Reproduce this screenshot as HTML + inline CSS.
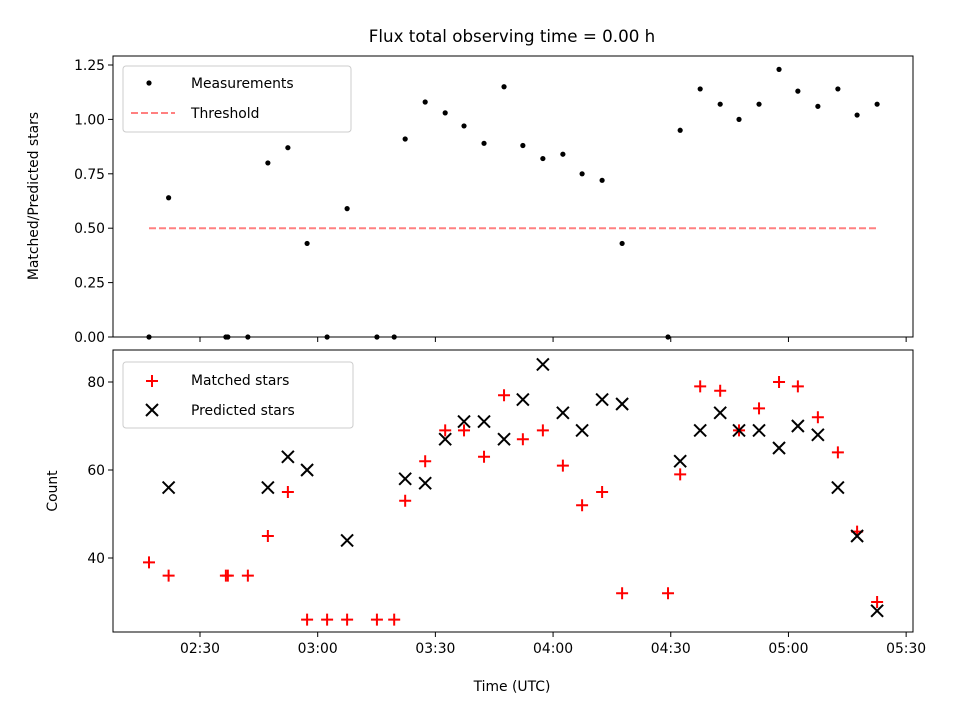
<!DOCTYPE html>
<html><head><meta charset="utf-8"><style>
body{margin:0;background:#fff}
svg{display:block;font-family:"DejaVu Sans","Liberation Sans",sans-serif}
</style></head><body>
<svg id="fig" width="960" height="720" viewBox="0 0 960 720">
<rect width="960" height="720" fill="#fff"/>
<text x="512" y="42" font-size="16.7" text-anchor="middle">Flux total observing time = 0.00 h</text>
<g id="topPanel"></g>
<g id="botPanel"></g>
<text x="512" y="691" font-size="13.9" text-anchor="middle">Time (UTC)</text>
<text transform="translate(38,196) rotate(-90)" font-size="13.9" text-anchor="middle">Matched/Predicted stars</text>
<text transform="translate(57,491) rotate(-90)" font-size="13.9" text-anchor="middle">Count</text>
</svg>
<script>
// minutes since 02:30 UTC
const times=[-13,-8,6.6,7.1,12.2,17.3,22.4,27.3,32.4,37.5,45.1,49.5,52.3,57.4,62.5,67.3,72.4,77.5,82.3,87.4,92.5,97.4,102.5,107.6,119.3,122.4,127.5,132.6,137.4,142.5,147.6,152.4,157.5,162.6,167.5,172.6];
const ratio=[0,0.64,0,0,0,0.80,0.87,0.43,0,0.59,0,0,0.91,1.08,1.03,0.97,0.89,1.15,0.88,0.82,0.84,0.75,0.72,0.43,0,0.95,1.14,1.07,1.00,1.07,1.23,1.13,1.06,1.14,1.02,1.07];
const matched=[39,36,36,36,36,45,55,26,26,26,26,26,53,62,69,69,63,77,67,69,61,52,55,32,32,59,79,78,69,74,80,79,72,64,46,30];
const predicted=[null,56,null,null,null,56,63,60,null,44,null,null,58,57,67,71,71,67,76,84,73,69,76,75,null,62,69,73,69,69,65,70,68,56,45,28];
const threshold=0.5;
const xTickMin=[0,30,60,90,120,150,180];
const xTickLabels=["02:30","03:00","03:30","04:00","04:30","05:00","05:30"];
const topTicks=[0,0.25,0.5,0.75,1.0,1.25];
const botTicks=[40,60,80];

const NS="http://www.w3.org/2000/svg";
const L=113,R=913;
const X=m=>200+m*3.923;
const Yt=v=>337-v*217.6;
const Yb=v=>558-(v-40)*4.4;
function mk(tag,attrs,parent){const e=document.createElementNS(NS,tag);for(const k in attrs)e.setAttribute(k,attrs[k]);parent.appendChild(e);return e;}
const topG=document.getElementById('topPanel'),botG=document.getElementById('botPanel');

function axes(g,y0,y1,ticks,Y,fmt,labels){
  for(let i=0;i<xTickMin.length;i++){
    const x=X(xTickMin[i]);
    const t=mk('line',{x1:x,x2:x,y1:y1,y2:y1+5,stroke:'#000','stroke-width':1},g);
    
    
    if(labels){
      const tx=mk('text',{x:x,y:y1+21,'font-size':13.9,'text-anchor':'middle'},g);
      tx.textContent=xTickLabels[i];
      
      
    }
  }
  ticks.forEach(v=>{
    const y=Y(v);
    const t=mk('line',{x1:L-5,x2:L,y1:y,y2:y,stroke:'#000','stroke-width':1},g);
    
    
    const tx=mk('text',{x:L-8,y:y+5,'font-size':13.9,'text-anchor':'end'},g);
    tx.textContent=fmt(v);
    
    
  });
}
function frame(g,y0,y1){
  const r=mk('rect',{x:L,y:y0,width:R-L,height:y1-y0,fill:'none',stroke:'#000','stroke-width':1},g);
  
  
}
function plus(g,x,y){
  return mk('path',{d:`M${x-6},${y}H${x+6}M${x},${y-6}V${y+6}`,stroke:'#f00','stroke-width':2,fill:'none'},g);
}
function cross(g,x,y){
  return mk('path',{d:`M${x-6},${y-6}L${x+6},${y+6}M${x-6},${y+6}L${x+6},${y-6}`,stroke:'#000','stroke-width':2,fill:'none'},g);
}

const tl=mk('line',{x1:X(times[0]),x2:X(times[times.length-1]),y1:Yt(threshold),y2:Yt(threshold),stroke:'#ff8080','stroke-width':2,'stroke-dasharray':'7,3'},topG);


times.forEach((t,i)=>{
  const c=mk('circle',{cx:X(t),cy:Yt(ratio[i]),r:2.6,fill:'#000'},topG);
  
  
});
axes(topG,56,337,topTicks,Yt,v=>v.toFixed(2),false);
frame(topG,56,337);

const lg1=mk('g',{},topG);


mk('rect',{x:123,y:66,width:228,height:66,rx:3,fill:'#fff',stroke:'#ccc'},lg1);
mk('circle',{cx:149,cy:83,r:2.6,fill:'#000'},lg1);
let t1=mk('text',{x:191,y:88,'font-size':13.9},lg1);t1.textContent='Measurements';


mk('line',{x1:131,x2:175,y1:113,y2:113,stroke:'#ff8080','stroke-width':2,'stroke-dasharray':'7,3'},lg1);
let t2=mk('text',{x:191,y:118,'font-size':13.9},lg1);t2.textContent='Threshold';



const clip=mk('clipPath',{id:'cb'},botG);mk('rect',{x:L,y:350,width:R-L,height:282},clip);
const pg=mk('g',{'clip-path':'url(#cb)'},botG);
times.forEach((t,i)=>{
  const p=plus(pg,X(t),Yb(matched[i]));
  
  
});
times.forEach((t,i)=>{
  if(predicted[i]==null)return;
  const c=cross(pg,X(t),Yb(predicted[i]));
  
  
});
axes(botG,350,632,botTicks,Yb,v=>String(v),true);
frame(botG,350,632);

const lg2=mk('g',{},botG);


mk('rect',{x:123,y:362,width:230,height:66,rx:3,fill:'#fff',stroke:'#ccc'},lg2);
plus(lg2,152,381);
let t3=mk('text',{x:191,y:385,'font-size':13.9},lg2);t3.textContent='Matched stars';


cross(lg2,152,410);
let t4=mk('text',{x:191,y:415,'font-size':13.9},lg2);t4.textContent='Predicted stars';


</script>
</body></html>
